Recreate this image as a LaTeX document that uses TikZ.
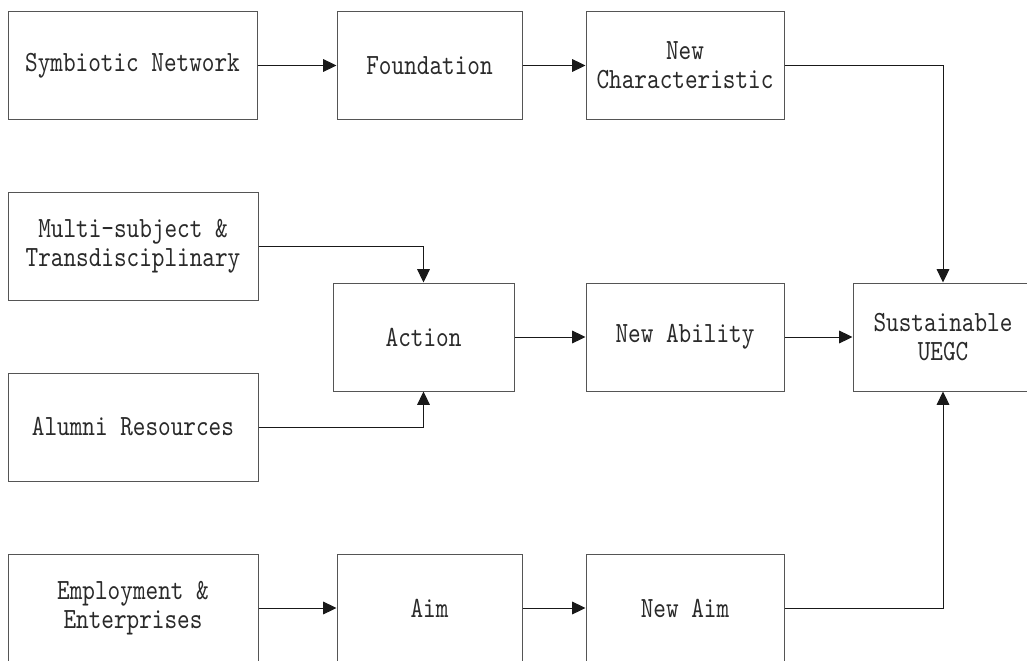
\documentclass[tikz,border=0pt]{standalone}
\usepackage{fontspec}
\newfontfamily\boxfont{lmmono10-regular.otf}[FakeStretch=0.82]
\usetikzlibrary{arrows.meta}
\definecolor{boxgray}{HTML}{555555}
\definecolor{textgray}{HTML}{2A2A2A}
\tikzset{
  box/.style={draw=boxgray, line width=0.75pt, minimum height=80.5pt, inner sep=0pt,
    align=center, text=textgray, font=\boxfont\fontsize{22}{22}\selectfont},
  conn/.style={draw=black!90, line width=0.75pt, -{Triangle[length=10pt,width=9.5pt]}},
}
\begin{document}
\begin{tikzpicture}[x=0.75pt,y=-0.75pt]
\useasboundingbox (0,0) rectangle (1027,660);
\clip (0,0) rectangle (1027,660);
\fill[white] (0,0) rectangle (1027,660);
% row 1
\node[box, minimum width=186.75pt] (sym) at (132.5,65.5) {Symbiotic Network};
\node[box, minimum width=138.75pt] (found) at (429.5,65.5) {Foundation};
\node[box, minimum width=148.5pt] (newch) at (685,65.5) {New\\Characteristic};
% rows 2/3
\node[box, minimum width=187.5pt] (multi) at (133,246.5) {Multi-subject \&\\Transdisciplinary};
\node[box, minimum width=187.5pt, minimum height=81pt] (alumni) at (133,427) {Alumni Resources};
\node[box, minimum width=135.75pt, minimum height=81pt] (action) at (423.5,337) {Action};
\node[box, minimum width=148.5pt, minimum height=81pt] (newab) at (685,337) {New Ability};
\node[box, minimum width=135pt, minimum height=81pt] (sust) at (943,337) {Sustainable\\UEGC};
% row 4
\node[box, minimum width=187.5pt, minimum height=81pt] (emp) at (133,608) {Employment \&\\Enterprises};
\node[box, minimum width=138.75pt, minimum height=81pt] (aim) at (429.5,608) {Aim};
\node[box, minimum width=148.5pt, minimum height=81pt] (newaim) at (685,608) {New Aim};
% connectors
\draw[conn] (sym) -- (found);
\draw[conn] (found) -- (newch);
\draw[conn] (newch.east) -| (sust.north);
\draw[conn] (multi.east) -| (action.north);
\draw[conn] (alumni.east) -| (action.south);
\draw[conn] (action) -- (newab);
\draw[conn] (newab) -- (sust);
\draw[conn] (emp) -- (aim);
\draw[conn] (aim) -- (newaim);
\draw[conn] (newaim.east) -| (sust.south);
\end{tikzpicture}
\end{document}
